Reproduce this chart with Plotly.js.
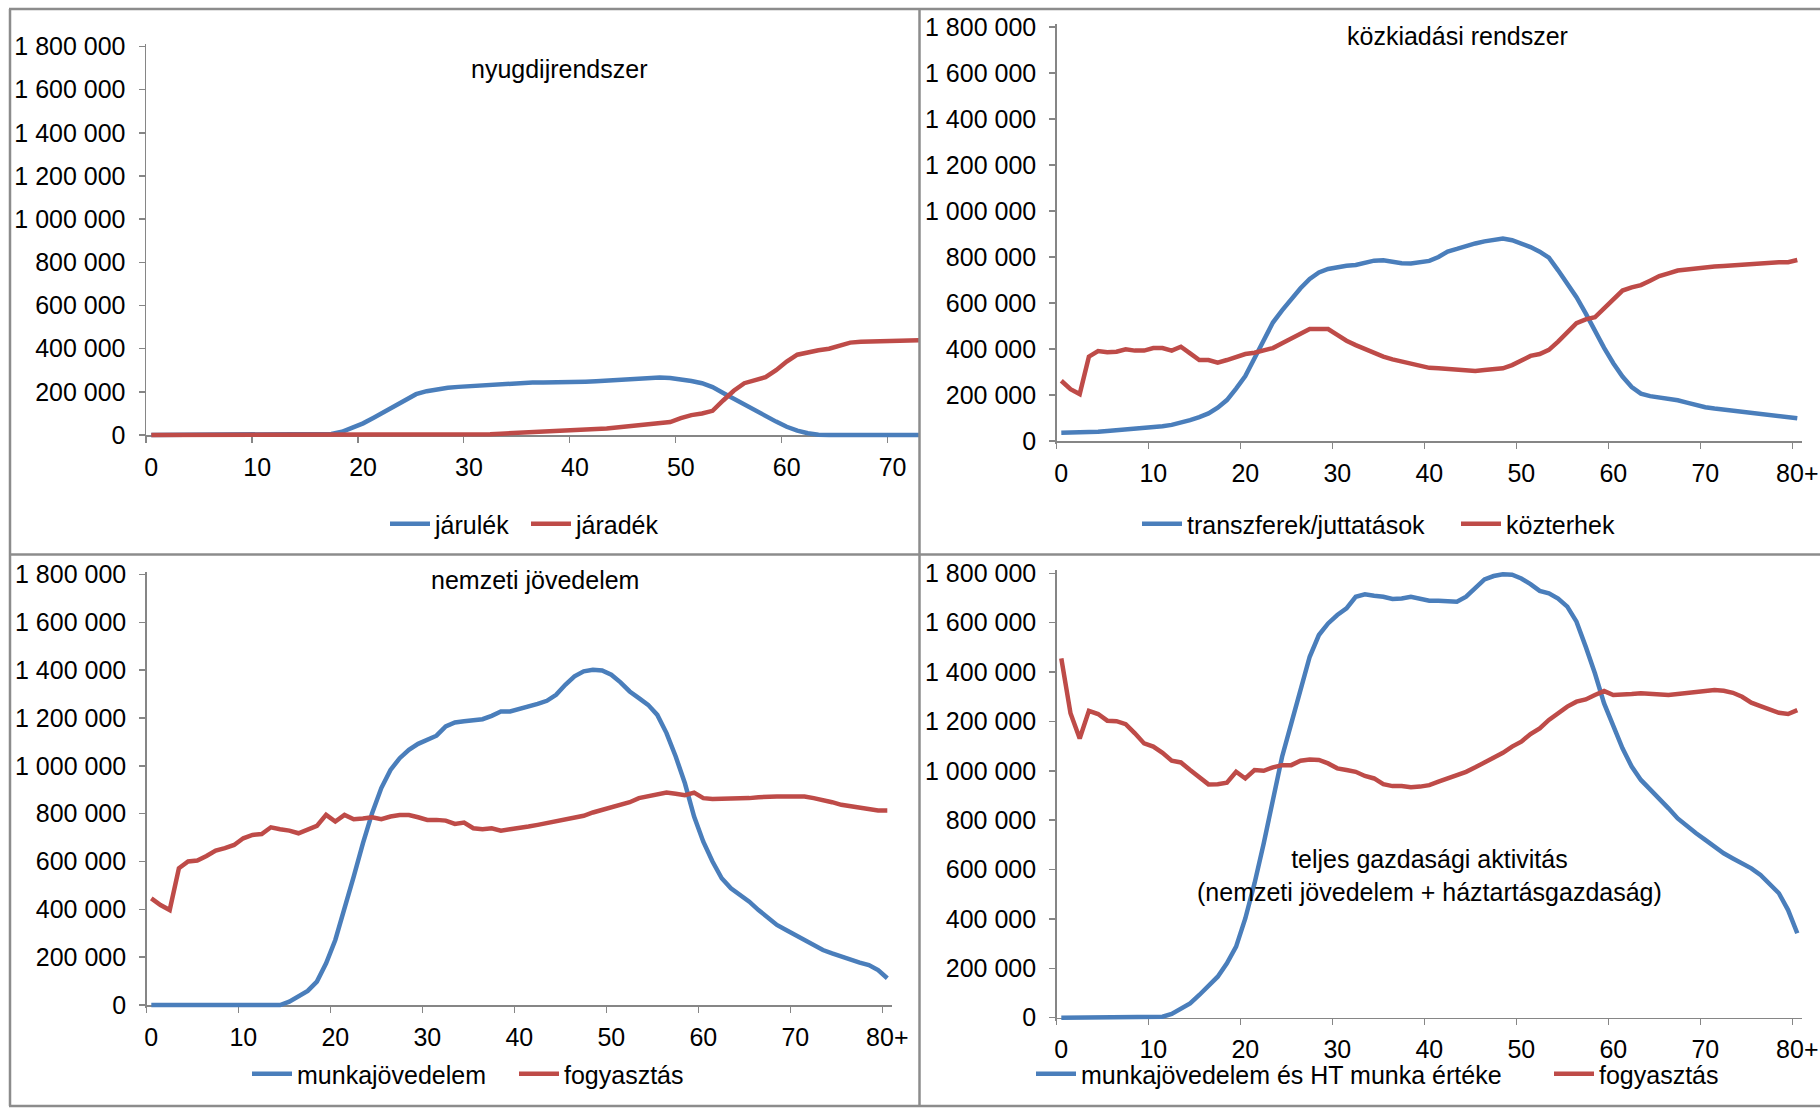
<!DOCTYPE html>
<html>
<head>
<meta charset="utf-8">
<script src="https://cdn.plot.ly/plotly-3.0.1.min.js"></script>
<style>
  html, body { margin: 0; padding: 0; background: #fff; }
  #chart { width: 1820px; height: 1109px; }
</style>
</head>
<body>
<div id="chart"></div>
<script>
// ---------- categories & tick labels ----------
const ages = [0,1,2,3,4,5,6,7,8,9,10,11,12,13,14,15,16,17,18,19,20,21,22,23,24,25,26,27,28,29,30,
  31,32,33,34,35,36,37,38,39,40,41,42,43,44,45,46,47,48,49,50,51,52,53,54,55,56,57,58,59,60,
  61,62,63,64,65,66,67,68,69,70,71,72,73,74,75,76,77,78,79,80];
const xTickVals = [0,10,20,30,40,50,60,70,80];
const xTickText = ['0','10','20','30','40','50','60','70','80+'];
const yTickVals = [0,200000,400000,600000,800000,1000000,1200000,1400000,1600000,1800000];
const yTickText = ['0','200 000','400 000','600 000','800 000','1 000 000','1 200 000','1 400 000','1 600 000','1 800 000'];

// ---------- nyugdijrendszer ----------
const jarulek = [0,0,0,0,0,0,0,0,0,0,0,0,0,0,0,0,0,
  5000,15000,32000,54000,80000,107000,134000,162000,189000,203000,212000,219000,223000,226000,
  229000,233000,237000,241000,243000,243000,243000,243000,243000,245000,247000,249000,252000,256000,
  260000,264000,266000,266000,264000,258000,250000,240000,222000,195000,168000,140000,112000,87000,
  62000,38000,20000,8000,1000,
  0,0,0,0,0,0,0,0,0,0,0,0,0,0,0,0,0];
const jaradek = [0,0,0,0,0,0,0,0,0,0,0,0,0,0,0,0,0,0,0,0,0,0,0,0,0,0,0,0,
  1000,2000,2000,3000,4000,6000,9000,11000,13000,15000,18000,21000,24000,26000,28000,30000,35000,
  40000,45000,47000,50000,60000,78000,92000,100000,112000,160000,205000,240000,255000,268000,300000,
  340000,372000,385000,393000,400000,415000,428000,432000,434000,435000,437000,440000,441000,441000,
  442000,442000,443000,443000,444000,444000,445000];

// ---------- közkiadási rendszer ----------
const transzferek = [36000,36000,36000,37000,40000,43000,46000,49000,52000,55000,59000,64000,70000,79000,
  91000,104000,120000,145000,178000,228000,282000,360000,443000,515000,568000,617000,664000,705000,
  733000,748000,757000,762000,765000,775000,784000,786000,780000,773000,772000,776000,783000,800000,
  824000,835000,848000,859000,868000,876000,880000,873000,859000,843000,823000,797000,742000,686000,
  625000,555000,478000,405000,338000,280000,235000,206000,195000,189000,184000,177000,167000,156000,
  147000,141000,136000,131000,126000,121000,117000,113000,110000,105000,99000];
const kozterhek = [262000,225000,204000,367000,391000,386000,388000,399000,393000,393000,404000,404000,
  393000,410000,381000,352000,352000,341000,352000,367000,378000,384000,396000,404000,425000,446000,
  468000,487000,487000,487000,461000,436000,417000,400000,386000,367000,355000,346000,336000,326000,
  318000,316000,313000,309000,306000,304000,309000,313000,316000,330000,352000,370000,378000,396000,
  432000,471000,512000,529000,538000,577000,616000,654000,668000,678000,697000,717000,729000,741000,
  746000,751000,755000,759000,761000,764000,768000,771000,772000,775000,777000,777000,787000];

// ---------- nemzeti jövedelem ----------
const munkajovedelem = [0,0,0,0,0,0,0,0,0,0,0,0,0,0,0,
  14000,35000,59000,98000,174000,272000,397000,537000,676000,802000,907000,983000,1032000,1067000,
  1092000,1109000,1126000,1165000,1181000,1186000,1190000,1195000,1209000,1227000,1227000,1237000,
  1245000,1259000,1272000,1297000,1339000,1374000,1395000,1402000,1399000,1381000,1349000,1311000,
  1283000,1255000,1213000,1137000,1039000,927000,788000,683000,600000,530000,488000,460000,432000,
  397000,363000,335000,314000,293000,272000,251000,230000,216000,202000,188000,177000,167000,146000,112000];
const fogyasztasNJ = [446000,418000,397000,572000,600000,604000,623000,646000,656000,669000,697000,711000,
  715000,743000,735000,729000,718000,732000,749000,795000,767000,795000,777000,780000,785000,777000,
  788000,794000,794000,785000,774000,774000,771000,757000,763000,739000,735000,739000,729000,735000,
  739000,746000,753000,760000,767000,774000,781000,791000,805000,816000,824000,837000,848000,865000,
  872000,881000,888000,883000,877000,888000,865000,861000,861000,861000,861000,865000,869000,872000,
  872000,872000,872000,872000,865000,858000,848000,837000,830000,824000,816000,813000,813000];

// ---------- teljes gazdasági aktivitás ----------
const munkaHT = [0,0,0,0,0,0,0,0,0,0,0,
  4000,15000,38000,58000,92000,128000,166000,220000,288000,402000,544000,706000,882000,1057000,1192000,
  1327000,1462000,1550000,1597000,1631000,1658000,1705000,1715000,1709000,1705000,1696000,1698000,
  1705000,1696000,1689000,1689000,1685000,1685000,1705000,1743000,1775000,1789000,1796000,1794000,
  1779000,1756000,1729000,1719000,1698000,1665000,1604000,1503000,1395000,1273000,1179000,1091000,
  1017000,963000,925000,888000,848000,807000,774000,747000,720000,693000,666000,645000,625000,605000,
  578000,544000,504000,436000,342000];
const fogyasztasTG = [1455000,1233000,1131000,1243000,1230000,1203000,1201000,1189000,1152000,1111000,
  1098000,1073000,1041000,1034000,1003000,973000,945000,946000,952000,996000,969000,1003000,1000000,
  1014000,1023000,1023000,1041000,1046000,1044000,1030000,1010000,1003000,996000,979000,969000,946000,
  938000,938000,933000,936000,942000,956000,969000,983000,996000,1014000,1033000,1050000,1073000,
  1098000,1118000,1149000,1172000,1206000,1235000,1260000,1280000,1289000,1307000,1323000,1307000,
  1311000,1311000,1314000,1311000,1310000,1307000,1311000,1316000,1320000,1324000,1327000,1324000,
  1316000,1300000,1276000,1262000,1249000,1235000,1230000,1246000];

// ---------- layout helpers (pixel geometry) ----------
const W = 1820, H = 1109;
const fx = px => px / W;
const fy = py => 1 - py / H;
const BLUE = '#4a7ebb', RED = '#be4b48';
const AXC = '#868686';
const FONT = 'Liberation Sans, Arial, sans-serif';
const YMAX = 1800000;

const panels = [
  {title: 'nyugdijrendszer', tx: 559, ty: 69, xl: 146, cat: 10.59, xr: 919, y0: 435, yt: 46.5,
   leg: {x: 385, y: 524, ew: 86}, series: [['járulék', jarulek, BLUE], ['járadék', jaradek, RED]]},
  {title: 'közkiadási rendszer', tx: 1457, ty: 36, xl: 1056.7, cat: 9.2, xr: 1801.9, y0: 441, yt: 27,
   leg: {x: 1137, y: 524, ew: 264}, series: [['transzferek/juttatások', transzferek, BLUE], ['közterhek', kozterhek, RED]]},
  {title: 'nemzeti jövedelem', tx: 535, ty: 580, xl: 146.7, cat: 9.2, xr: 891.9, y0: 1005, yt: 574.5,
   leg: {x: 247, y: 1074, ew: 212}, series: [['munkajövedelem', munkajovedelem, BLUE], ['fogyasztás', fogyasztasNJ, RED]]},
  {title: 'teljes gazdasági aktivitás<br>(nemzeti jövedelem + háztartásgazdaság)', tx: 1429, ty: 875,
   xl: 1056.7, cat: 9.2, xr: 1801.9, y0: 1017.7, yt: 573.3,
   leg: {x: 1031, y: 1074, ew: 463}, series: [['munkajövedelem és HT munka értéke', munkaHT, BLUE], ['fogyasztás', fogyasztasTG, RED]]}
];

const data = [];
const layout = {
  width: W, height: H,
  margin: {l: 0, r: 0, t: 0, b: 0, autoexpand: false},
  paper_bgcolor: '#ffffff', plot_bgcolor: 'rgba(0,0,0,0)',
  font: {family: FONT, size: 25, color: '#000'},
  showlegend: true,
  annotations: [], shapes: []
};

panels.forEach((p, i) => {
  const n = i + 1;
  const sfx = n === 1 ? '' : String(n);
  const pad = 3;
  const vpp = YMAX / (p.y0 - p.yt);
  const xmax = -0.5 + (p.xr - p.xl) / p.cat;
  const legName = n === 1 ? 'legend' : 'legend' + n;

  layout['yaxis' + sfx] = {
    domain: [fy(p.y0 + pad), fy(p.yt - pad)],
    range: [-pad * vpp, YMAX + pad * vpp],
    anchor: 'x' + sfx,
    showline: true, linecolor: AXC, linewidth: 1.5,
    ticks: 'outside', ticklen: 6, tickwidth: 1.5, tickcolor: AXC,
    tickmode: 'array', tickvals: yTickVals, ticktext: yTickText,
    tickfont: {family: FONT, size: 25, color: '#000'},
    ticklabelstandoff: 8, automargin: false,
    showgrid: false, zeroline: false, fixedrange: true
  };
  layout['xaxis' + sfx] = {
    domain: [fx(p.xl), fx(p.xr)],
    range: [-0.5, xmax],
    anchor: 'free', position: fy(p.y0),
    showline: true, linecolor: AXC, linewidth: 1.5,
    ticks: '',
    tickmode: 'array', tickvals: xTickVals, ticktext: xTickText,
    tickfont: {family: FONT, size: 25, color: '#000'},
    ticklabelstandoff: 9, automargin: false,
    minor: {
      tickmode: 'array', tickvals: xTickVals.map(v => v - 0.5),
      ticks: 'outside', ticklen: 6, tickwidth: 1.5, tickcolor: AXC, showgrid: false
    },
    layer: 'below traces',
    showgrid: false, zeroline: false, fixedrange: true
  };
  layout[legName] = {
    orientation: 'h', x: fx(p.leg.x), xanchor: 'left', y: fy(p.leg.y), yanchor: 'middle',
    bgcolor: 'rgba(0,0,0,0)', font: {family: FONT, size: 25, color: '#000'},
    itemwidth: 40
  };
  p.series.forEach((s, k) => {
    const tr = {
      type: 'scatter', mode: 'lines', name: s[0],
      x: ages, y: s[1],
      xaxis: 'x' + sfx, yaxis: 'y' + sfx,
      legend: legName,
      line: {color: s[2], width: 4.5, shape: 'linear'},
      hoverinfo: 'skip'
    };
    if (k === 0) tr.legendwidth = p.leg.ew;
    data.push(tr);
  });
  layout.annotations.push({
    text: p.title, xref: 'paper', yref: 'paper', x: fx(p.tx), y: fy(p.ty),
    xanchor: 'center', yanchor: 'middle', showarrow: false,
    font: {family: FONT, size: 25, color: '#000'}
  });
});

// panel frame
const BC = '#8c8c8c';
const line = (x0, y0, x1, y1) => ({type: 'line', xref: 'paper', yref: 'paper',
  x0: fx(x0), y0: fy(y0), x1: fx(x1), y1: fy(y1), line: {color: BC, width: 2.5}, layer: 'above'});
layout.shapes.push(line(9, 9, 1820, 9));
layout.shapes.push(line(10, 9, 10, 1106));
layout.shapes.push(line(9, 1106, 1820, 1106));
layout.shapes.push(line(919.5, 9, 919.5, 1106));
layout.shapes.push(line(9, 554.5, 1820, 554.5));

Plotly.newPlot('chart', data, layout, {staticPlot: true, displayModeBar: false});
</script>
</body>
</html>
